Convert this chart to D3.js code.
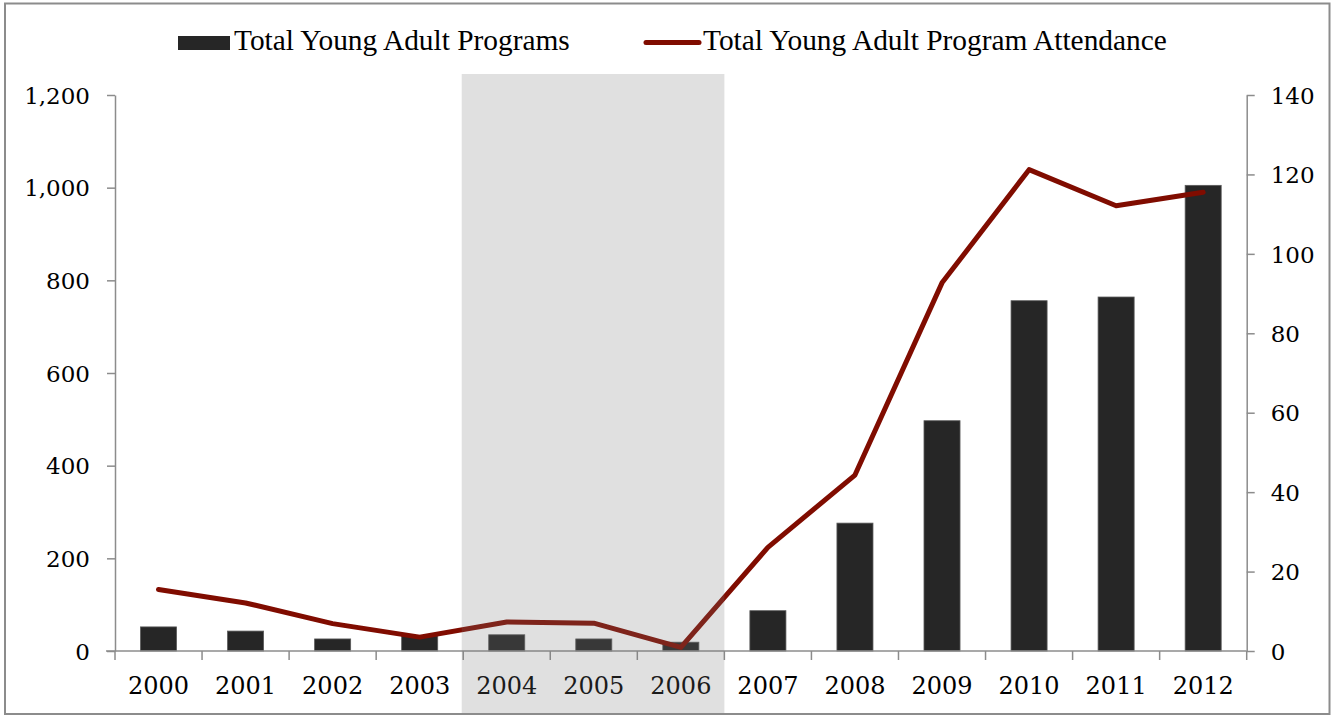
<!DOCTYPE html>
<html>
<head>
<meta charset="utf-8">
<script src="https://cdn.jsdelivr.net/npm/d3@7"></script>
<style>
  html, body { margin: 0; padding: 0; background: #fff; }
  svg { display: block; }
</style>
</head>
<body>
<svg id="chart" width="1331" height="715"></svg>
<script>
// ---- data ----
const years = ["2000","2001","2002","2003","2004","2005","2006","2007","2008","2009","2010","2011","2012"];
const programs = [52, 43, 26, 33, 35, 26, 19, 87, 276, 497, 756, 764, 1005];
const attendance = [15.5, 12.1, 6.9, 3.5, 7.3, 7.0, 0.9, 26.1, 44.3, 92.7, 121.2, 112.1, 115.5];
const leftTicks = [0, 200, 400, 600, 800, 1000, 1200];
const rightTicks = [0, 20, 40, 60, 80, 100, 120, 140];
const shadedYears = ["2004", "2005", "2006"];
const seriesNames = ["Total Young Adult Programs", "Total Young Adult Program Attendance"];

// ---- layout ----
const W = 1331, H = 715;
const plot = { left: 115, right: 1246.7, top: 95, bottom: 651 };
const axisColor = "#8c8c8c";
const barColor = "#262626";
const lineColor = "#800c00";
const axisFont = "'DejaVu Serif', Georgia, serif";
const legendFont = "'Liberation Serif', 'Times New Roman', serif";

const svg = d3.select("#chart");

const x = d3.scaleBand().domain(years).range([plot.left, plot.right]).padding(0);
const yL = d3.scaleLinear().domain([0, 1200]).range([plot.bottom, plot.top]);
const yR = d3.scaleLinear().domain([0, 140]).range([plot.bottom, plot.top]);

// bars
const barW = x.bandwidth() * 0.414;
svg.append("g").selectAll("rect").data(years).join("rect")
  .attr("x", d => x(d) + x.bandwidth() / 2 - barW / 2)
  .attr("y", (d, i) => yL(programs[i]))
  .attr("width", barW)
  .attr("height", (d, i) => yL(0) - yL(programs[i]))
  .attr("fill", barColor)
  .attr("stroke", "#5a5a5a")
  .attr("stroke-width", 0.8);

// left axis
const axL = svg.append("g").attr("transform", `translate(${plot.left},0)`)
  .call(d3.axisLeft(yL).tickValues(leftTicks).tickFormat(d3.format(",")).tickSize(8).tickSizeOuter(0).tickPadding(17));
// right axis
const axR = svg.append("g").attr("transform", `translate(${plot.right},0)`)
  .call(d3.axisRight(yR).tickValues(rightTicks).tickSize(8).tickSizeOuter(0).tickPadding(16));
[axL, axR].forEach(g => {
  g.select(".domain").attr("stroke", axisColor).attr("stroke-width", 1.5);
  g.selectAll(".tick line").attr("stroke", axisColor).attr("stroke-width", 1.5);
  g.selectAll(".tick text").attr("font-family", axisFont).attr("font-size", 23).attr("fill", "#000").attr("dy", "0.36em");
});

// bottom axis: labels at band centers
const axB = svg.append("g").attr("transform", `translate(0,${plot.bottom})`)
  .call(d3.axisBottom(x).tickSize(0).tickSizeOuter(0).tickPadding(26));
axB.select(".domain").remove();
axB.selectAll(".tick text").attr("font-family", axisFont).attr("font-size", 24).attr("fill", "#000").attr("dy", "0.71em");
// axis line & boundary ticks
svg.append("line").attr("x1", plot.left - 9).attr("x2", plot.right)
  .attr("y1", plot.bottom).attr("y2", plot.bottom)
  .attr("stroke", axisColor).attr("stroke-width", 1.5);
const bounds = years.map(d => x(d)).concat([x.range()[1]]);
svg.append("g").selectAll("line").data(bounds).join("line")
  .attr("x1", d => d).attr("x2", d => d)
  .attr("y1", plot.bottom).attr("y2", plot.bottom + 9)
  .attr("stroke", axisColor).attr("stroke-width", 1.5);

// line
const line = d3.line()
  .x((d, i) => x(years[i]) + x.bandwidth() / 2)
  .y(d => yR(d));
svg.append("path").datum(attendance)
  .attr("d", line)
  .attr("fill", "none")
  .attr("stroke", lineColor)
  .attr("stroke-width", 5)
  .attr("stroke-linejoin", "round")
  .attr("stroke-linecap", "round");

// legend
const leg = svg.append("g");
leg.append("rect").attr("x", 178).attr("y", 36).attr("width", 52).attr("height", 14).attr("fill", barColor);
const t1 = leg.append("text").attr("x", 234).attr("y", 50).text(seriesNames[0])
  .attr("font-family", legendFont).attr("font-size", 26).attr("fill", "#000");
leg.append("line").attr("x1", 646).attr("x2", 699).attr("y1", 42.5).attr("y2", 42.5)
  .attr("stroke", lineColor).attr("stroke-width", 5).attr("stroke-linecap", "round");
const t2 = leg.append("text").attr("x", 703).attr("y", 50).text(seriesNames[1])
  .attr("font-family", legendFont).attr("font-size", 26).attr("fill", "#000");
// fit legend text widths to the reference
[[t1, 336], [t2, 464]].forEach(([t, w]) => {
  const cw = t.node().getComputedTextLength();
  if (cw > 0) t.attr("font-size", 26 * w / cw);
});

// shaded overlay
const sx0 = x(shadedYears[0]);
const sx1 = x(shadedYears[shadedYears.length - 1]) + x.bandwidth();
svg.append("rect")
  .attr("x", sx0 - 1.5).attr("y", 74)
  .attr("width", sx1 - sx0 + 1.5).attr("height", H - 74)
  .attr("fill", "rgb(118,118,118)").attr("fill-opacity", 0.226);

// outer frame
svg.append("rect").attr("x", 5).attr("y", 3.5).attr("width", 1324.5).attr("height", 710.5)
  .attr("fill", "none").attr("stroke", "#8c8c8c").attr("stroke-width", 2);
</script>
</body>
</html>
